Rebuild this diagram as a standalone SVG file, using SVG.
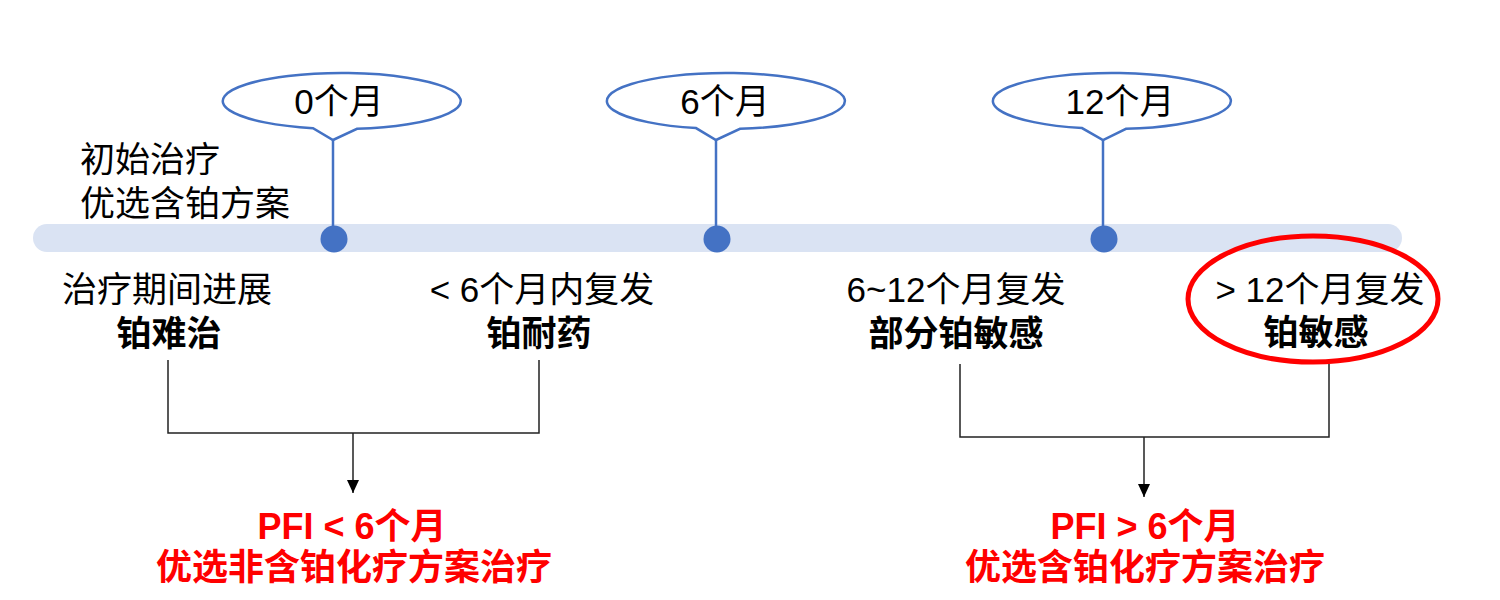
<svg xmlns="http://www.w3.org/2000/svg" width="1500" height="600" viewBox="0 0 1500 600">
<defs>
<style>
text{font-family:"Liberation Sans","Noto Sans CJK SC",sans-serif;font-size:35px;fill:#000;text-anchor:middle}
.b{font-weight:bold}
.red{fill:#FF0000;font-weight:bold;font-size:36px}
.call{fill:#fff;stroke:#4472C4;stroke-width:2.5}
.stem{stroke:#4472C4;stroke-width:2.5}
.dot{fill:#4472C4}
.con{stroke:#222;stroke-width:1.5;fill:none}
</style>
<marker id="ah" markerWidth="13" markerHeight="12" refX="13" refY="6" orient="auto" markerUnits="userSpaceOnUse" viewBox="0 0 13 12">
<path d="M0 0 L13 6 L0 12 Z" fill="#000"/>
</marker>
</defs>
<rect width="1500" height="600" fill="#fff"/>
<g id="timeline">
<rect x="33" y="224" width="1369" height="28" rx="14" fill="#DAE3F3"/>
</g>
<g id="start-label">
<text x="80" y="172" style="text-anchor:start">初始治疗</text>
<text x="80" y="216" style="text-anchor:start">优选含铂方案</text>
</g>
<g id="m0">
<line class="stem" x1="333" y1="140" x2="333" y2="238"/>
<path class="call" d="M313 128.2 A119 28 0 1 1 357 128.8 L333 140 Z"/>
<text x="339" y="114">0个月</text>
<circle class="dot" cx="334" cy="239" r="13.5"/>
</g>
<g id="m6">
<line class="stem" x1="716" y1="140" x2="716" y2="238"/>
<path class="call" d="M696 128.1 A119 28 0 1 1 740 128.8 L716 140 Z"/>
<text x="725" y="114">6个月</text>
<circle class="dot" cx="717" cy="239" r="13.5"/>
</g>
<g id="m12">
<line class="stem" x1="1103" y1="140" x2="1103" y2="238"/>
<path class="call" d="M1082 128.1 A119 28 0 1 1 1126 128.8 L1103 140 Z"/>
<text x="1120" y="114">12个月</text>
<circle class="dot" cx="1104" cy="239" r="13.5"/>
</g>
<g id="refractory">
<text x="167" y="302">治疗期间进展</text>
<text class="b" x="169" y="346">铂难治</text>
</g>
<g id="resistant">
<text x="542" y="302">&lt; 6个月内复发</text>
<text class="b" x="539" y="346">铂耐药</text>
</g>
<g id="partial">
<text x="956" y="302">6~12个月复发</text>
<text class="b" x="956" y="346">部分铂敏感</text>
</g>
<g id="sensitive">
<ellipse cx="1313" cy="299" rx="125" ry="63" fill="none" stroke="#FF0000" stroke-width="5"/>
<text x="1320" y="302">&gt; 12个月复发</text>
<text class="b" x="1316" y="345">铂敏感</text>
</g>
<g id="connectors">
<path class="con" d="M168 360 V433 H539 V360"/>
<line class="con" x1="353" y1="433" x2="353" y2="493" marker-end="url(#ah)"/>
<path class="con" d="M960 364 V437 H1329 V364"/>
<line class="con" x1="1144" y1="437" x2="1144" y2="497" marker-end="url(#ah)"/>
</g>
<g id="result-left">
<text class="red" x="352" y="539">PFI &lt; 6个月</text>
<text class="red" x="354" y="580">优选非含铂化疗方案治疗</text>
</g>
<g id="result-right">
<text class="red" x="1145" y="539">PFI &gt; 6个月</text>
<text class="red" x="1145" y="580">优选含铂化疗方案治疗</text>
</g>
</svg>
